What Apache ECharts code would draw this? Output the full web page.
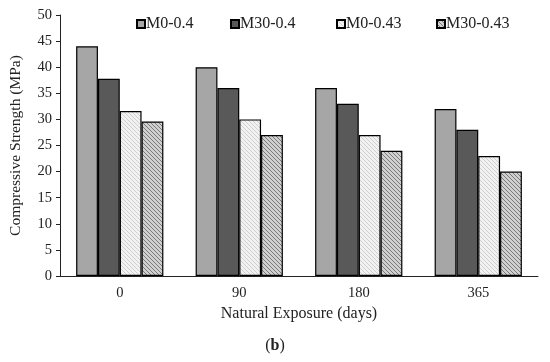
<!DOCTYPE html>
<html><head><meta charset="utf-8">
<script src="https://cdn.jsdelivr.net/npm/echarts@6/dist/echarts.min.js"></script>
<style>html,body{margin:0;padding:0;background:#fff}#c{width:550px;height:362px}</style>
</head><body><div id="c"></div>
<script>
var categories = ['0', '90', '180', '365'];
var seriesNames = ['M0-0.4', 'M30-0.4', 'M0-0.43', 'M30-0.43'];
var m0_04 = [44, 40, 36, 32];
var m30_04 = [37.8, 36, 33, 28];
var m0_043 = [31.6, 30, 27, 23];
var m30_043 = [29.6, 27, 24, 20];

function hatch(bg, fg) {
  var cv = document.createElement('canvas');
  cv.width = 4; cv.height = 4;
  var ctx = cv.getContext('2d');
  ctx.fillStyle = bg; ctx.fillRect(0, 0, 4, 4);
  ctx.strokeStyle = fg; ctx.lineWidth = 1;
  ctx.beginPath();
  ctx.moveTo(0, 0); ctx.lineTo(4, 4);
  ctx.moveTo(-2, 2); ctx.lineTo(2, 6);
  ctx.moveTo(2, -2); ctx.lineTo(6, 2);
  ctx.stroke();
  return { image: cv, repeat: 'repeat' };
}

var fills = ['#a6a6a6', '#595959', hatch('#f2f2f2', '#cfcfcf'), hatch('#d0d0d0', '#7a7a7a')];
var dataSets = [m0_04, m30_04, m0_043, m30_043];
var legendLeft = [131, 225, 331, 431];
var font = 'Liberation Serif, Times New Roman, serif';

var chart = echarts.init(document.getElementById('c'), null, { renderer: 'canvas' });
chart.setOption({
  animation: false,
  textStyle: { fontFamily: font },
  grid: { left: 58, right: 12, top: 15, bottom: 86 },
  legend: seriesNames.map(function (n, i) {
    return {
      top: 11, left: legendLeft[i], itemWidth: 8, itemHeight: 8, icon: 'rect',
      textStyle: { fontFamily: font, fontSize: 16, color: '#222', padding: [0, 0, 0, -4] },
      data: [n]
    };
  }),
  xAxis: {
    type: 'category', data: categories,
    name: 'Natural Exposure (days)', nameLocation: 'middle', nameGap: 30,
    nameTextStyle: { fontFamily: font, fontSize: 16, color: '#222' },
    axisLine: { lineStyle: { color: '#222', width: 1 } },
    axisTick: { show: false },
    axisLabel: { fontFamily: font, fontSize: 14.5, color: '#222', margin: 10 }
  },
  yAxis: {
    type: 'value', min: 0, max: 50, interval: 5,
    name: 'Compressive Strength (MPa)', nameLocation: 'middle', nameGap: 36,
    nameTextStyle: { fontFamily: font, fontSize: 15.5, color: '#222' },
    axisLine: { show: true, lineStyle: { color: '#222', width: 1 } },
    axisTick: { show: true, length: 4, lineStyle: { color: '#222' } },
    splitLine: { show: false },
    axisLabel: { fontFamily: font, fontSize: 14.5, color: '#222', margin: 8 }
  },
  graphic: [{
    type: 'text', left: 'center', top: 338,
    style: { rich: { n: { fontFamily: font, fontSize: 16, fill: '#222' }, b: { fontFamily: font, fontSize: 16, fontWeight: 'bold', fill: '#222' } },
      text: '{n|(}{b|b}{n|)}' }
  }],
  series: seriesNames.map(function (n, i) {
    return {
      name: n, type: 'bar', data: dataSets[i],
      barGap: '0%', barCategoryGap: '27%',
      itemStyle: { color: fills[i], borderColor: '#000', borderWidth: 1.2 }
    };
  })
});
</script></body></html>
